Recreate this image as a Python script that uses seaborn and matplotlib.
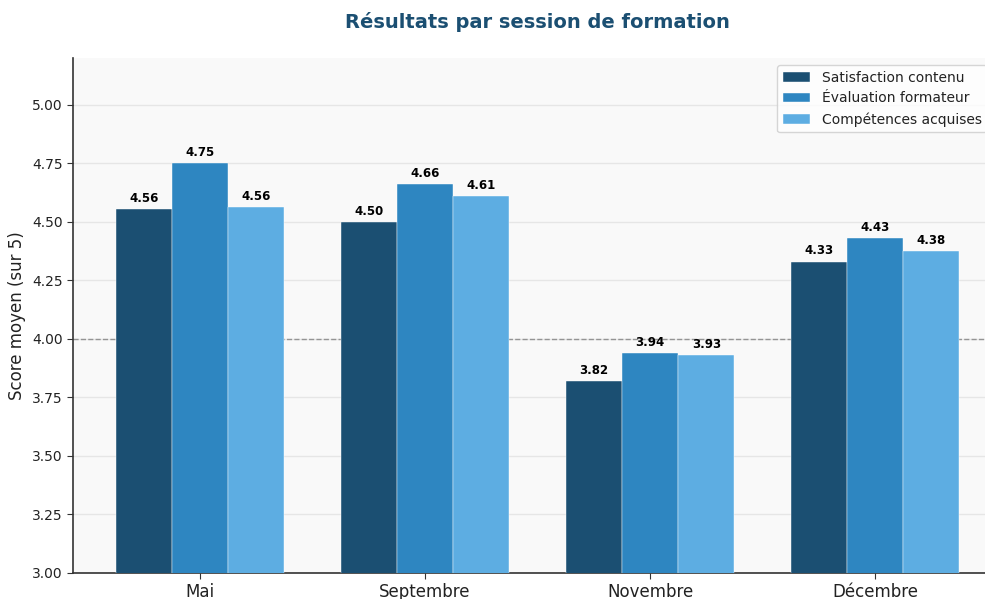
import matplotlib
matplotlib.use("Agg")
import matplotlib.pyplot as plt
import seaborn as sns
import pandas as pd

sessions = ["Mai", "Septembre", "Novembre", "Décembre"]
series = ["Satisfaction contenu", "Évaluation formateur", "Compétences acquises"]
satisfaction = [4.556, 4.50, 3.82, 4.33]
evaluation = [4.75, 4.66, 3.94, 4.43]
competences = [4.564, 4.61, 3.93, 4.376]
colors = ["#1b4f72", "#2e86c1", "#5dade2"]

rows = []
for name, vals in zip(series, [satisfaction, evaluation, competences]):
    for s, v in zip(sessions, vals):
        rows.append({"Session": s, "Série": name, "Score": v})
df = pd.DataFrame(rows)

sns.set_style("white")
plt.rcParams['font.family'] = ['DejaVu Sans']

fig = plt.figure(figsize=(9.85, 5.99), dpi=100)
ax = fig.add_axes([73/985, 26/599, (1002-73)/985, (573-58)/599])
ax.set_facecolor("#f9f9f9")

sns.barplot(data=df, x="Session", y="Score", hue="Série", order=sessions,
            hue_order=series, palette=colors, width=0.75, ax=ax, saturation=1,
            edgecolor="white", linewidth=0.3, errorbar=None, zorder=3)

for cont in ax.containers:
    ax.bar_label(cont, fmt="%.2f", padding=3, fontsize=8.5, fontweight="bold",
                 color="black")

ax.set_ylim(3.0, 5.2)
ax.set_xlim(-0.564, 3.564)
ax.set_yticks([3.0, 3.25, 3.5, 3.75, 4.0, 4.25, 4.5, 4.75, 5.0])
ax.yaxis.set_major_formatter(matplotlib.ticker.FormatStrFormatter("%.2f"))
ax.grid(axis="y", color="#e6e6e6", linewidth=1, zorder=0)
ax.set_axisbelow(True)
ax.axhline(4.0, color="gray", linestyle="--", linewidth=1, alpha=0.8, zorder=2)

for sp in ["top", "right"]:
    ax.spines[sp].set_visible(False)
for sp in ["left", "bottom"]:
    ax.spines[sp].set_color("#333333")
    ax.spines[sp].set_linewidth(1.2)

ax.tick_params(axis="y", labelsize=10, length=4, left=True, color="#333333",
               labelcolor="#222222")
ax.tick_params(axis="x", labelsize=12, length=4, bottom=True, color="#333333",
               labelcolor="#222222")
ax.set_xlabel("")
ax.set_ylabel("Score moyen (sur 5)", fontsize=12, color="#222222")

leg = ax.legend(loc="upper right", fontsize=10, frameon=True, title=None,
                bbox_to_anchor=(1 - 8/929, 1.0))
leg.get_frame().set_edgecolor("#cccccc")
leg.get_frame().set_facecolor("white")
for t in leg.get_texts():
    t.set_color("#222222")

fig.text(0.546, 1 - 22/599, "Résultats par session de formation", ha="center", va="center",
         fontsize=14, fontweight="bold", color="#1b4f72")

fig.savefig("out.png", dpi=100)
